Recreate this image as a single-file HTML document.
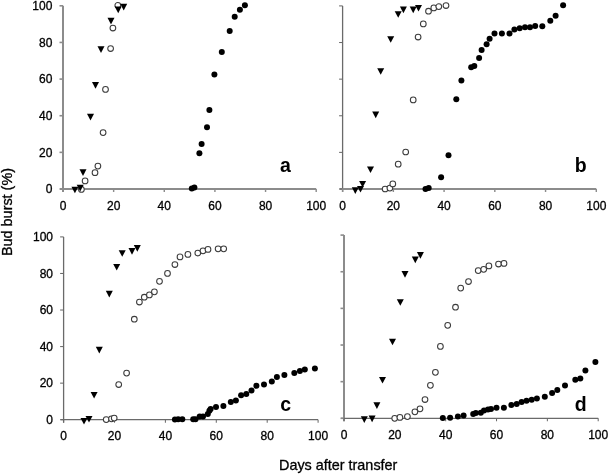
<!DOCTYPE html>
<html><head><meta charset="utf-8"><style>
html,body{margin:0;padding:0;background:#fff;overflow:hidden;width:609px;height:474px;}
svg{display:block;filter:grayscale(1);}
.t{font-family:'Liberation Sans', sans-serif;font-size:12px;fill:#000;stroke:#000;stroke-width:0.3px;}
.L{font-family:'Liberation Sans', sans-serif;font-size:19.5px;font-weight:bold;fill:#000;}
.T{font-family:'Liberation Sans', sans-serif;font-size:14.4px;fill:#000;stroke:#000;stroke-width:0.3px;}
.o{fill:#fff;stroke:#3c3c3c;stroke-width:1.05;}
</style></head><body>
<svg width="609" height="474" viewBox="0 0 609 474">
<rect width="609" height="474" fill="#fff"/>
<line x1="63" y1="5.8" x2="63" y2="192" stroke="#8c8c8c" stroke-width="2.0"/>
<line x1="60" y1="189" x2="316.2" y2="189" stroke="#8c8c8c" stroke-width="1.8"/>
<line x1="59.5" y1="189" x2="63" y2="189" stroke="#8c8c8c" stroke-width="1.6"/>
<line x1="63" y1="189" x2="63" y2="192" stroke="#8c8c8c" stroke-width="1.4400000000000002"/>
<text x="63" y="209.6" text-anchor="middle" class="t">0</text>
<text x="52.4" y="193.3" text-anchor="end" class="t">0</text>
<line x1="59.5" y1="152.36" x2="63" y2="152.36" stroke="#8c8c8c" stroke-width="1.6"/>
<line x1="113.64" y1="189" x2="113.64" y2="192" stroke="#8c8c8c" stroke-width="1.4400000000000002"/>
<text x="113.64" y="209.6" text-anchor="middle" class="t">20</text>
<text x="52.4" y="156.66" text-anchor="end" class="t">20</text>
<line x1="59.5" y1="115.72" x2="63" y2="115.72" stroke="#8c8c8c" stroke-width="1.6"/>
<line x1="164.28" y1="189" x2="164.28" y2="192" stroke="#8c8c8c" stroke-width="1.4400000000000002"/>
<text x="164.28" y="209.6" text-anchor="middle" class="t">40</text>
<text x="52.4" y="120.02" text-anchor="end" class="t">40</text>
<line x1="59.5" y1="79.08" x2="63" y2="79.08" stroke="#8c8c8c" stroke-width="1.6"/>
<line x1="214.92" y1="189" x2="214.92" y2="192" stroke="#8c8c8c" stroke-width="1.4400000000000002"/>
<text x="214.92" y="209.6" text-anchor="middle" class="t">60</text>
<text x="52.4" y="83.38" text-anchor="end" class="t">60</text>
<line x1="59.5" y1="42.44" x2="63" y2="42.44" stroke="#8c8c8c" stroke-width="1.6"/>
<line x1="265.56" y1="189" x2="265.56" y2="192" stroke="#8c8c8c" stroke-width="1.4400000000000002"/>
<text x="265.56" y="209.6" text-anchor="middle" class="t">80</text>
<text x="52.4" y="46.74" text-anchor="end" class="t">80</text>
<line x1="59.5" y1="5.8" x2="63" y2="5.8" stroke="#8c8c8c" stroke-width="1.6"/>
<line x1="316.2" y1="189" x2="316.2" y2="192" stroke="#8c8c8c" stroke-width="1.4400000000000002"/>
<text x="316.2" y="209.6" text-anchor="middle" class="t">100</text>
<text x="52.4" y="10.1" text-anchor="end" class="t">100</text>
<text x="285.4" y="171.5" text-anchor="middle" class="L">a</text>
<line x1="342.6" y1="5.9" x2="342.6" y2="192" stroke="#6a6a6a" stroke-width="1.3"/>
<line x1="339.6" y1="189" x2="596.3" y2="189" stroke="#8c8c8c" stroke-width="1.8"/>
<line x1="339.1" y1="189" x2="342.6" y2="189" stroke="#6a6a6a" stroke-width="1.04"/>
<line x1="342.6" y1="189" x2="342.6" y2="192" stroke="#8c8c8c" stroke-width="1.4400000000000002"/>
<text x="342.6" y="209.6" text-anchor="middle" class="t">0</text>
<line x1="339.1" y1="152.38" x2="342.6" y2="152.38" stroke="#6a6a6a" stroke-width="1.04"/>
<line x1="393.34" y1="189" x2="393.34" y2="192" stroke="#8c8c8c" stroke-width="1.4400000000000002"/>
<text x="393.34" y="209.6" text-anchor="middle" class="t">20</text>
<line x1="339.1" y1="115.76" x2="342.6" y2="115.76" stroke="#6a6a6a" stroke-width="1.04"/>
<line x1="444.08" y1="189" x2="444.08" y2="192" stroke="#8c8c8c" stroke-width="1.4400000000000002"/>
<text x="444.08" y="209.6" text-anchor="middle" class="t">40</text>
<line x1="339.1" y1="79.14" x2="342.6" y2="79.14" stroke="#6a6a6a" stroke-width="1.04"/>
<line x1="494.82" y1="189" x2="494.82" y2="192" stroke="#8c8c8c" stroke-width="1.4400000000000002"/>
<text x="494.82" y="209.6" text-anchor="middle" class="t">60</text>
<line x1="339.1" y1="42.52" x2="342.6" y2="42.52" stroke="#6a6a6a" stroke-width="1.04"/>
<line x1="545.56" y1="189" x2="545.56" y2="192" stroke="#8c8c8c" stroke-width="1.4400000000000002"/>
<text x="545.56" y="209.6" text-anchor="middle" class="t">80</text>
<line x1="339.1" y1="5.9" x2="342.6" y2="5.9" stroke="#6a6a6a" stroke-width="1.04"/>
<line x1="596.3" y1="189" x2="596.3" y2="192" stroke="#8c8c8c" stroke-width="1.4400000000000002"/>
<text x="596.3" y="209.6" text-anchor="middle" class="t">100</text>
<text x="580.8" y="171.5" text-anchor="middle" class="L">b</text>
<line x1="63.6" y1="236.9" x2="63.6" y2="422.7" stroke="#6a6a6a" stroke-width="1.3"/>
<line x1="60.6" y1="419.7" x2="318.1" y2="419.7" stroke="#6a6a6a" stroke-width="1.3"/>
<line x1="60.1" y1="419.7" x2="63.6" y2="419.7" stroke="#6a6a6a" stroke-width="1.04"/>
<line x1="63.6" y1="419.7" x2="63.6" y2="422.7" stroke="#6a6a6a" stroke-width="1.04"/>
<text x="63.6" y="440.3" text-anchor="middle" class="t">0</text>
<text x="53" y="424" text-anchor="end" class="t">0</text>
<line x1="60.1" y1="383.14" x2="63.6" y2="383.14" stroke="#6a6a6a" stroke-width="1.04"/>
<line x1="114.5" y1="419.7" x2="114.5" y2="422.7" stroke="#6a6a6a" stroke-width="1.04"/>
<text x="114.5" y="440.3" text-anchor="middle" class="t">20</text>
<text x="53" y="387.44" text-anchor="end" class="t">20</text>
<line x1="60.1" y1="346.58" x2="63.6" y2="346.58" stroke="#6a6a6a" stroke-width="1.04"/>
<line x1="165.4" y1="419.7" x2="165.4" y2="422.7" stroke="#6a6a6a" stroke-width="1.04"/>
<text x="165.4" y="440.3" text-anchor="middle" class="t">40</text>
<text x="53" y="350.88" text-anchor="end" class="t">40</text>
<line x1="60.1" y1="310.02" x2="63.6" y2="310.02" stroke="#6a6a6a" stroke-width="1.04"/>
<line x1="216.3" y1="419.7" x2="216.3" y2="422.7" stroke="#6a6a6a" stroke-width="1.04"/>
<text x="216.3" y="440.3" text-anchor="middle" class="t">60</text>
<text x="53" y="314.32" text-anchor="end" class="t">60</text>
<line x1="60.1" y1="273.46" x2="63.6" y2="273.46" stroke="#6a6a6a" stroke-width="1.04"/>
<line x1="267.2" y1="419.7" x2="267.2" y2="422.7" stroke="#6a6a6a" stroke-width="1.04"/>
<text x="267.2" y="440.3" text-anchor="middle" class="t">80</text>
<text x="53" y="277.76" text-anchor="end" class="t">80</text>
<line x1="60.1" y1="236.9" x2="63.6" y2="236.9" stroke="#6a6a6a" stroke-width="1.04"/>
<line x1="318.1" y1="419.7" x2="318.1" y2="422.7" stroke="#6a6a6a" stroke-width="1.04"/>
<text x="318.1" y="440.3" text-anchor="middle" class="t">100</text>
<text x="53" y="241.2" text-anchor="end" class="t">100</text>
<text x="285.8" y="411.2" text-anchor="middle" class="L">c</text>
<line x1="344" y1="235.1" x2="344" y2="421.3" stroke="#8c8c8c" stroke-width="2.0"/>
<line x1="341" y1="418.3" x2="598.2" y2="418.3" stroke="#6a6a6a" stroke-width="1.3"/>
<line x1="340.5" y1="418.3" x2="344" y2="418.3" stroke="#8c8c8c" stroke-width="1.6"/>
<line x1="344" y1="418.3" x2="344" y2="421.3" stroke="#6a6a6a" stroke-width="1.04"/>
<text x="344" y="438.9" text-anchor="middle" class="t">0</text>
<line x1="340.5" y1="381.66" x2="344" y2="381.66" stroke="#8c8c8c" stroke-width="1.6"/>
<line x1="394.84" y1="418.3" x2="394.84" y2="421.3" stroke="#6a6a6a" stroke-width="1.04"/>
<text x="394.84" y="438.9" text-anchor="middle" class="t">20</text>
<line x1="340.5" y1="345.02" x2="344" y2="345.02" stroke="#8c8c8c" stroke-width="1.6"/>
<line x1="445.68" y1="418.3" x2="445.68" y2="421.3" stroke="#6a6a6a" stroke-width="1.04"/>
<text x="445.68" y="438.9" text-anchor="middle" class="t">40</text>
<line x1="340.5" y1="308.38" x2="344" y2="308.38" stroke="#8c8c8c" stroke-width="1.6"/>
<line x1="496.52" y1="418.3" x2="496.52" y2="421.3" stroke="#6a6a6a" stroke-width="1.04"/>
<text x="496.52" y="438.9" text-anchor="middle" class="t">60</text>
<line x1="340.5" y1="271.74" x2="344" y2="271.74" stroke="#8c8c8c" stroke-width="1.6"/>
<line x1="547.36" y1="418.3" x2="547.36" y2="421.3" stroke="#6a6a6a" stroke-width="1.04"/>
<text x="547.36" y="438.9" text-anchor="middle" class="t">80</text>
<line x1="340.5" y1="235.1" x2="344" y2="235.1" stroke="#8c8c8c" stroke-width="1.6"/>
<line x1="598.2" y1="418.3" x2="598.2" y2="421.3" stroke="#6a6a6a" stroke-width="1.04"/>
<text x="598.2" y="438.9" text-anchor="middle" class="t">100</text>
<text x="580.6" y="410.7" text-anchor="middle" class="L">d</text>
<text class="T" x="338.2" y="469.8" text-anchor="middle">Days after transfer</text>
<text class="T" transform="translate(11.6 212) rotate(-90)" text-anchor="middle">Bud burst (%)</text>
<circle cx="191.8" cy="188.5" r="3.0"/>
<circle cx="194.4" cy="187.6" r="3.0"/>
<circle cx="199.4" cy="153.3" r="3.0"/>
<circle cx="201.6" cy="144.1" r="3.0"/>
<circle cx="207" cy="127.2" r="3.0"/>
<circle cx="209.4" cy="109.9" r="3.0"/>
<circle cx="214.4" cy="74.5" r="3.0"/>
<circle cx="221.8" cy="51.9" r="3.0"/>
<circle cx="229.7" cy="31.1" r="3.0"/>
<circle cx="234.7" cy="16.8" r="3.0"/>
<circle cx="239.9" cy="9.7" r="3.0"/>
<circle cx="244.9" cy="5.3" r="3.0"/>
<circle cx="81.4" cy="189.4" r="2.85" class="o"/>
<circle cx="85.1" cy="180.9" r="2.85" class="o"/>
<circle cx="95" cy="172.7" r="2.85" class="o"/>
<circle cx="97.9" cy="166.1" r="2.85" class="o"/>
<circle cx="103.1" cy="132.6" r="2.85" class="o"/>
<circle cx="105.5" cy="89.4" r="2.85" class="o"/>
<circle cx="110.6" cy="48.5" r="2.85" class="o"/>
<circle cx="112.9" cy="28" r="2.85" class="o"/>
<circle cx="117.8" cy="5.3" r="2.85" class="o"/>
<path d="M71.4 186.7H78.4L74.9 193.3Z"/>
<path d="M76.7 184.8H83.7L80.2 191.4Z"/>
<path d="M79.5 169.3H86.5L83 175.9Z"/>
<path d="M87 113.8H94L90.5 120.4Z"/>
<path d="M92 82.1H99L95.5 88.7Z"/>
<path d="M97.5 46.3H104.5L101 52.9Z"/>
<path d="M107.5 17.8H114.5L111 24.4Z"/>
<path d="M114.7 6.6H121.7L118.2 13.2Z"/>
<path d="M120.2 3.8H127.2L123.7 10.4Z"/>
<circle cx="425.5" cy="188.9" r="3.0"/>
<circle cx="428.7" cy="188.1" r="3.0"/>
<circle cx="441.1" cy="177.3" r="3.0"/>
<circle cx="448.5" cy="155.2" r="3.0"/>
<circle cx="456.3" cy="99.2" r="3.0"/>
<circle cx="461.4" cy="80.6" r="3.0"/>
<circle cx="471.2" cy="67.3" r="3.0"/>
<circle cx="474.3" cy="65.9" r="3.0"/>
<circle cx="479.1" cy="58" r="3.0"/>
<circle cx="481.6" cy="50" r="3.0"/>
<circle cx="486.6" cy="44.2" r="3.0"/>
<circle cx="489.6" cy="38.7" r="3.0"/>
<circle cx="494.5" cy="33.5" r="3.0"/>
<circle cx="501.9" cy="33.5" r="3.0"/>
<circle cx="509.5" cy="33.5" r="3.0"/>
<circle cx="514.4" cy="29.6" r="3.0"/>
<circle cx="519.7" cy="28.2" r="3.0"/>
<circle cx="525" cy="27.2" r="3.0"/>
<circle cx="530" cy="27.3" r="3.0"/>
<circle cx="535.2" cy="26" r="3.0"/>
<circle cx="542.3" cy="26.3" r="3.0"/>
<circle cx="550.3" cy="20.8" r="3.0"/>
<circle cx="555.6" cy="15.8" r="3.0"/>
<circle cx="563.1" cy="5.3" r="3.0"/>
<circle cx="385.1" cy="189" r="2.85" class="o"/>
<circle cx="389.9" cy="188.1" r="2.85" class="o"/>
<circle cx="392.8" cy="183.9" r="2.85" class="o"/>
<circle cx="398.2" cy="164.2" r="2.85" class="o"/>
<circle cx="405.7" cy="152" r="2.85" class="o"/>
<circle cx="413.2" cy="99.9" r="2.85" class="o"/>
<circle cx="418.1" cy="37" r="2.85" class="o"/>
<circle cx="423.3" cy="23.9" r="2.85" class="o"/>
<circle cx="428.5" cy="11.2" r="2.85" class="o"/>
<circle cx="433.8" cy="7.9" r="2.85" class="o"/>
<circle cx="438.8" cy="6.6" r="2.85" class="o"/>
<circle cx="446" cy="5.5" r="2.85" class="o"/>
<path d="M351.8 187.3H358.8L355.3 193.9Z"/>
<path d="M357 185.9H364L360.5 192.5Z"/>
<path d="M359.1 181H366.1L362.6 187.6Z"/>
<path d="M367 166.4H374L370.5 173Z"/>
<path d="M372.2 111.6H379.2L375.7 118.2Z"/>
<path d="M377.2 68.2H384.2L380.7 74.8Z"/>
<path d="M387.2 36.2H394.2L390.7 42.8Z"/>
<path d="M394.7 11.2H401.7L398.2 17.8Z"/>
<path d="M399.9 6.6H406.9L403.4 13.2Z"/>
<path d="M409.7 6.6H416.7L413.2 13.2Z"/>
<path d="M415 4.9H422L418.5 11.5Z"/>
<circle cx="174.9" cy="419.5" r="3.0"/>
<circle cx="178.2" cy="419.3" r="3.0"/>
<circle cx="182.3" cy="419.3" r="3.0"/>
<circle cx="193.2" cy="419.3" r="3.0"/>
<circle cx="195.5" cy="419.3" r="3.0"/>
<circle cx="199.7" cy="416.5" r="3.0"/>
<circle cx="203" cy="416.5" r="3.0"/>
<circle cx="207.8" cy="414" r="3.0"/>
<circle cx="209.4" cy="410.7" r="3.0"/>
<circle cx="210.6" cy="409" r="3.0"/>
<circle cx="216" cy="407" r="3.0"/>
<circle cx="223.4" cy="406" r="3.0"/>
<circle cx="230.8" cy="402.1" r="3.0"/>
<circle cx="235.9" cy="400.4" r="3.0"/>
<circle cx="241.1" cy="395.2" r="3.0"/>
<circle cx="246.3" cy="393.9" r="3.0"/>
<circle cx="251.5" cy="390.6" r="3.0"/>
<circle cx="256.4" cy="385.8" r="3.0"/>
<circle cx="264" cy="384.6" r="3.0"/>
<circle cx="271.8" cy="381.6" r="3.0"/>
<circle cx="276.9" cy="376.9" r="3.0"/>
<circle cx="284.4" cy="374.9" r="3.0"/>
<circle cx="294.3" cy="373" r="3.0"/>
<circle cx="299.9" cy="371" r="3.0"/>
<circle cx="304.8" cy="369.6" r="3.0"/>
<circle cx="314.9" cy="368.5" r="3.0"/>
<circle cx="106.2" cy="419.6" r="2.85" class="o"/>
<circle cx="111.5" cy="418.8" r="2.85" class="o"/>
<circle cx="114.2" cy="418.1" r="2.85" class="o"/>
<circle cx="118.7" cy="384.5" r="2.85" class="o"/>
<circle cx="126.6" cy="373.1" r="2.85" class="o"/>
<circle cx="134.3" cy="319.2" r="2.85" class="o"/>
<circle cx="139.4" cy="302" r="2.85" class="o"/>
<circle cx="144.3" cy="297.2" r="2.85" class="o"/>
<circle cx="149.4" cy="294.9" r="2.85" class="o"/>
<circle cx="154.4" cy="291.8" r="2.85" class="o"/>
<circle cx="159.5" cy="281.3" r="2.85" class="o"/>
<circle cx="167.5" cy="273.4" r="2.85" class="o"/>
<circle cx="174.9" cy="264.5" r="2.85" class="o"/>
<circle cx="180" cy="256.9" r="2.85" class="o"/>
<circle cx="187.9" cy="254.4" r="2.85" class="o"/>
<circle cx="197.8" cy="253" r="2.85" class="o"/>
<circle cx="203" cy="250.8" r="2.85" class="o"/>
<circle cx="208" cy="249.4" r="2.85" class="o"/>
<circle cx="218.1" cy="248.8" r="2.85" class="o"/>
<circle cx="223.7" cy="248.8" r="2.85" class="o"/>
<path d="M80.5 418H87.5L84 424.6Z"/>
<path d="M85.5 415.9H92.5L89 422.5Z"/>
<path d="M90.6 392H97.6L94.1 398.6Z"/>
<path d="M95.8 346.8H102.8L99.3 353.4Z"/>
<path d="M105.8 290.8H112.8L109.3 297.4Z"/>
<path d="M113.2 263.9H120.2L116.7 270.5Z"/>
<path d="M118.7 250.2H125.7L122.2 256.8Z"/>
<path d="M128.5 248.1H135.5L132 254.7Z"/>
<path d="M133.8 245.1H140.8L137.3 251.7Z"/>
<circle cx="442.8" cy="418.1" r="3.0"/>
<circle cx="450.1" cy="417.8" r="3.0"/>
<circle cx="457.9" cy="416.6" r="3.0"/>
<circle cx="463.6" cy="415.5" r="3.0"/>
<circle cx="473.2" cy="414.1" r="3.0"/>
<circle cx="475.8" cy="413.1" r="3.0"/>
<circle cx="480.8" cy="412.8" r="3.0"/>
<circle cx="484" cy="410.5" r="3.0"/>
<circle cx="488" cy="409.5" r="3.0"/>
<circle cx="491" cy="408.9" r="3.0"/>
<circle cx="496.5" cy="407.8" r="3.0"/>
<circle cx="503.9" cy="407.8" r="3.0"/>
<circle cx="511.3" cy="405.1" r="3.0"/>
<circle cx="516.7" cy="404.1" r="3.0"/>
<circle cx="521.6" cy="401.9" r="3.0"/>
<circle cx="526.5" cy="400.7" r="3.0"/>
<circle cx="531.7" cy="399.7" r="3.0"/>
<circle cx="536.9" cy="398.5" r="3.0"/>
<circle cx="544.8" cy="396.7" r="3.0"/>
<circle cx="552.1" cy="392.9" r="3.0"/>
<circle cx="557.3" cy="390.1" r="3.0"/>
<circle cx="565" cy="385.6" r="3.0"/>
<circle cx="575.3" cy="379.8" r="3.0"/>
<circle cx="580.3" cy="378.5" r="3.0"/>
<circle cx="585.4" cy="370.6" r="3.0"/>
<circle cx="595.4" cy="362.1" r="3.0"/>
<circle cx="394.7" cy="418.3" r="2.85" class="o"/>
<circle cx="399.9" cy="417.4" r="2.85" class="o"/>
<circle cx="407.4" cy="416.6" r="2.85" class="o"/>
<circle cx="414.9" cy="411.8" r="2.85" class="o"/>
<circle cx="420" cy="408.8" r="2.85" class="o"/>
<circle cx="425" cy="399.5" r="2.85" class="o"/>
<circle cx="430.4" cy="385.3" r="2.85" class="o"/>
<circle cx="435.4" cy="372.3" r="2.85" class="o"/>
<circle cx="440.4" cy="346.4" r="2.85" class="o"/>
<circle cx="447.7" cy="325.3" r="2.85" class="o"/>
<circle cx="455.5" cy="307.2" r="2.85" class="o"/>
<circle cx="460.7" cy="288.1" r="2.85" class="o"/>
<circle cx="468.5" cy="281.5" r="2.85" class="o"/>
<circle cx="478.2" cy="270.6" r="2.85" class="o"/>
<circle cx="483.7" cy="269.3" r="2.85" class="o"/>
<circle cx="488.9" cy="265.9" r="2.85" class="o"/>
<circle cx="498.5" cy="264" r="2.85" class="o"/>
<circle cx="504" cy="263.4" r="2.85" class="o"/>
<path d="M360.8 416.3H367.8L364.3 422.9Z"/>
<path d="M368.6 415.6H375.6L372.1 422.2Z"/>
<path d="M373.4 402.3H380.4L376.9 408.9Z"/>
<path d="M379 376.9H386L382.5 383.5Z"/>
<path d="M389 338.7H396L392.5 345.3Z"/>
<path d="M396.8 299.2H403.8L400.3 305.8Z"/>
<path d="M401.5 271.1H408.5L405 277.7Z"/>
<path d="M411.8 256.6H418.8L415.3 263.2Z"/>
<path d="M416.9 252.1H423.9L420.4 258.7Z"/>
</svg>
</body></html>
